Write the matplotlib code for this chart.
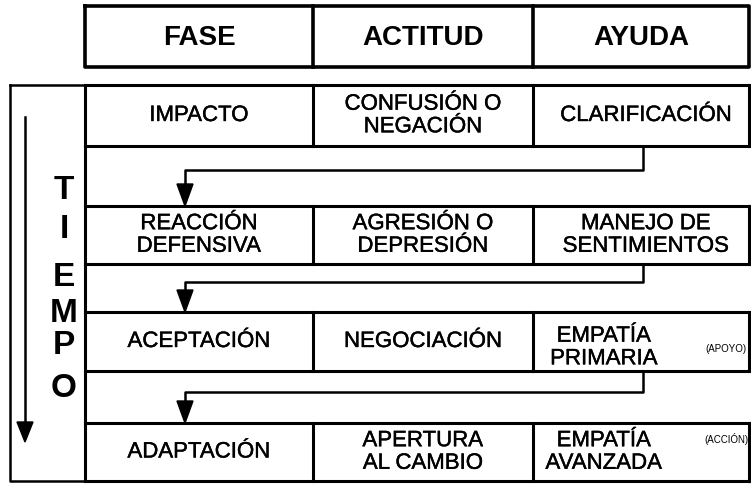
import matplotlib.pyplot as plt
import matplotlib.patheffects as pe

# Contenido de la tabla
encabezados = ['FASE', 'ACTITUD', 'AYUDA']
fases = ['IMPACTO', 'REACCIÓN\nDEFENSIVA', 'ACEPTACIÓN', 'ADAPTACIÓN']
actitudes = ['CONFUSIÓN O\nNEGACIÓN', 'AGRESIÓN O\nDEPRESIÓN', 'NEGOCIACIÓN', 'APERTURA\nAL CAMBIO']
ayudas = ['CLARIFICACIÓN', 'MANEJO DE\nSENTIMIENTOS', 'EMPATÍA\nPRIMARIA', 'EMPATÍA\nAVANZADA']
notas = ['', '', '(APOYO)', '(ACCIÓN)']
tiempo = 'TIEMPO'

# Geometria (pixeles)
col_edges = [85, 313, 533, 749]
row_tops = [86, 207, 313, 424]
row_bots = [147, 265, 372, 482]
conn_y = [171, 283, 393]
letra_y = [191, 230, 278, 314, 346, 389]
ayuda_dy = [0, 0, 6, 0]
nota_dy = [0, 0, 7, -14]

plt.rcParams['font.family'] = ['Liberation Sans', 'DejaVu Sans']

fig = plt.figure(figsize=(7.51, 4.85), dpi=100)
ax = fig.add_axes([0, 0, 1, 1])
ax.set_xlim(0, 751)
ax.set_ylim(485, 0)
ax.axis('off')

lw = 2.2
k = 'black'
grueso = [pe.withStroke(linewidth=0.3, foreground=k)]

def celda(x, y, s, size=16):
    ax.text(x, y, s, ha='center', va='center', fontsize=size, linespacing=1.1,
            path_effects=grueso)

# Encabezado
ax.plot([col_edges[0], col_edges[-1], col_edges[-1], col_edges[0], col_edges[0]],
        [7, 7, 68, 68, 7], color=k, lw=2.6)
for x in col_edges[1:-1]:
    ax.plot([x, x], [7, 68], color=k, lw=2.6)
for i, t in enumerate(encabezados):
    cx = (col_edges[i] + col_edges[i + 1]) / 2
    ax.text(cx, 38, t, ha='center', va='center', fontsize=20, fontweight='bold')

# Columna TIEMPO
ax.plot([10, 10, 85], [86, 482, 482], color=k, lw=1.8)
ax.plot([10, 85], [86, 86], color=k, lw=1.8)
ax.plot([25, 25], [118, 425], color=k, lw=1.8)
ax.fill([17, 33, 25], [423, 423, 443], color=k)
for ch, y in zip(tiempo, letra_y):
    ax.text(64, y, ch, ha='center', va='center', fontsize=24, fontweight='bold')

# Borde izquierdo continuo
ax.plot([85, 85], [86, 482], color=k, lw=lw)

# Filas
for i in range(len(fases)):
    top, bot = row_tops[i], row_bots[i]
    ax.plot([col_edges[0], col_edges[-1]], [top, top], color=k, lw=lw)
    ax.plot([col_edges[0], col_edges[-1]], [bot, bot], color=k, lw=lw)
    ax.plot([col_edges[-1], col_edges[-1]], [top, bot], color=k, lw=lw)
    for x in col_edges[1:-1]:
        ax.plot([x, x], [top, bot], color=k, lw=lw)
    cy = (top + bot) / 2
    celda((col_edges[0] + col_edges[1]) / 2, cy, fases[i])
    celda((col_edges[1] + col_edges[2]) / 2, cy, actitudes[i])
    if notas[i]:
        celda(604, cy + ayuda_dy[i], ayudas[i])
        ax.text(726, cy + nota_dy[i], notas[i], ha='center', va='center', fontsize=7)
    else:
        celda(646, cy + ayuda_dy[i], ayudas[i])

# Flechas de conexion
for i, y in enumerate(conn_y):
    ax.plot([643, 643, 185, 185], [row_bots[i], y, y, row_tops[i + 1] - 20], color=k, lw=1.8)
    ax.fill([177, 193, 185], [row_tops[i + 1] - 22, row_tops[i + 1] - 22, row_tops[i + 1]], color=k)

fig.savefig('out.png', dpi=100, facecolor='white')
